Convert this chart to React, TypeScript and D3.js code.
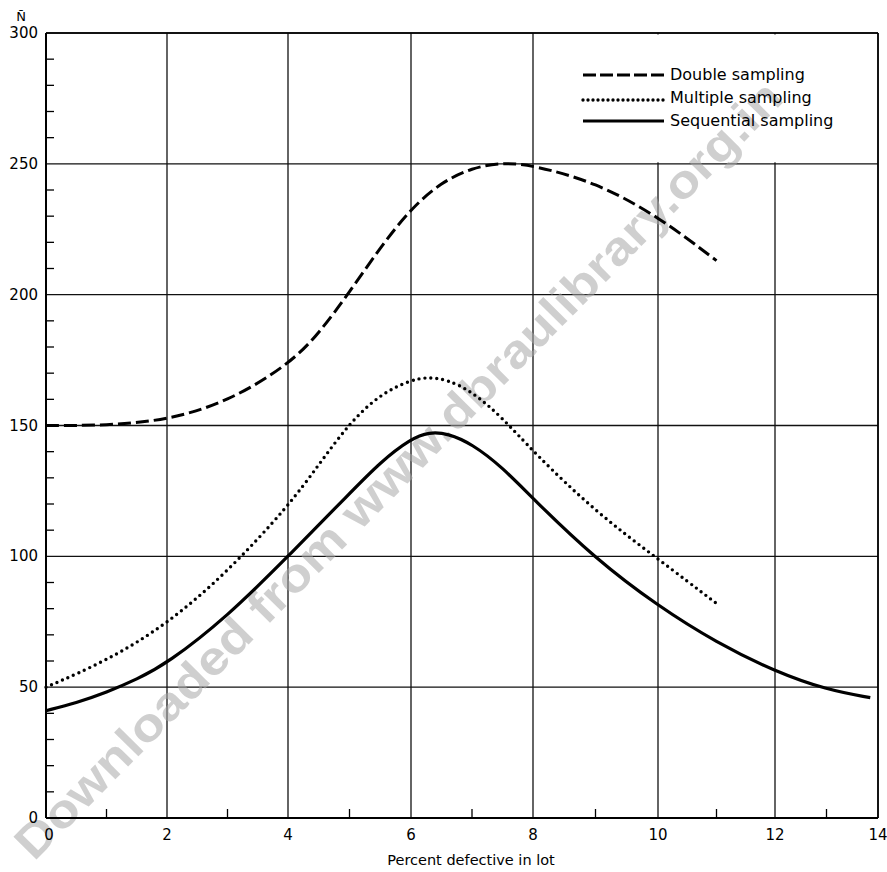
import React from "react";
import * as d3 from "d3";

// ---- data ----
const xTickValues = [0, 2, 4, 6, 8, 10, 12, 14];
const yTickValues = [0, 50, 100, 150, 200, 250, 300];
const xMinorTicks = [1, 3, 5, 7, 9, 11, 13];
const yMinorTicks = d3.range(10, 300, 10).filter((v) => v % 50 !== 0);

const doubleX = [0, 1, 2, 3, 4, 4.5, 5, 5.5, 6, 6.5, 7, 7.5, 8, 9, 10, 11];
const doubleY = [150, 150, 152, 159, 173, 185, 201, 218, 233, 243, 248.5, 250.5, 249.5, 243, 230, 213];

const multipleX = [0, 1, 2, 3, 4, 4.5, 5, 5.5, 6, 6.3, 6.6, 7, 7.5, 8, 9, 10, 11];
const multipleY = [50, 60, 74, 94, 119, 135, 151, 162, 167.5, 168.5, 167.5, 163, 153, 140, 117, 99, 82];

const sequentialX = [0, 0.5, 1, 1.5, 2, 3, 4, 5, 5.5, 6, 6.3, 6.6, 7, 7.5, 8, 9, 10, 11, 12, 13, 13.85];
const sequentialY = [41, 44, 48, 53, 59, 77, 100, 124, 136, 145, 147.5, 147, 143, 134, 122, 99, 81, 67, 56, 49, 46];

const legendLabels = ["Double sampling", "Multiple sampling", "Sequential sampling"];

const FONT = "'DejaVu Sans', sans-serif";

export default function App() {
  const W = 887;
  const H = 872;
  // scanned axis is slightly non-uniform: polylinear scale through the grid positions
  const x = d3
    .scaleLinear()
    .domain(xTickValues)
    .range([46, 167, 288, 411, 533, 658, 775, 878]);
  const y = d3.scaleLinear().domain([0, 300]).range([818, 33]);

  const line = (xs: number[], ys: number[]) =>
    d3
      .line<number>()
      .x((_, i) => x(xs[i]))
      .y((d) => y(d))
      .curve(d3.curveBasis)(ys) as string;

  const x0 = x(0);
  const x1 = x(14);
  const y0 = y(0);
  const y1 = y(300);

  const series = [
    { xs: doubleX, ys: doubleY, dash: "13 5", cap: "butt", w: 3 },
    { xs: multipleX, ys: multipleY, dash: "0 6", cap: "round", w: 3.4 },
    { xs: sequentialX, ys: sequentialY, dash: "none", cap: "butt", w: 3.2 },
  ];

  const legendBase = [80, 103, 126];
  const legendLineY = [75, 100, 121];

  // watermark geometry
  const wmStart = [34, 862];
  const wmAngle = -45.4;

  return (
    <svg
      width={W}
      height={H}
      style={{ position: "absolute", left: 0, top: 0, background: "#fff" }}
    >
      <rect x={0} y={0} width={W} height={H} fill="#fff" />

      {/* horizontal grid */}
      {yTickValues
        .filter((v) => v > 0)
        .map((v) => (
          <line key={"h" + v} x1={x0} x2={x1} y1={y(v)} y2={y(v)} stroke="#111" strokeWidth={1.3} />
        ))}
      {/* vertical grid */}
      {xTickValues
        .filter((v) => v > 0)
        .map((v) => (
          <line key={"v" + v} x1={x(v)} x2={x(v)} y1={y0} y2={y1} stroke="#111" strokeWidth={1.3} />
        ))}

      {/* legend box (hides grid in the upper right cell) */}
      <rect
        x={x(9.45)}
        y={y(300) + 1.5}
        width={x(14) - x(9.45) - 2}
        height={y(250) - y(300) - 3}
        fill="#fff"
      />

      {/* watermark of the scanned source */}
      <text
        transform={`translate(${wmStart[0]},${wmStart[1]}) rotate(${wmAngle})`}
        fontFamily="'Liberation Sans', Arial, sans-serif"
        fontWeight="bold"
        fontSize={47}
        textLength={1070}
        lengthAdjust="spacingAndGlyphs"
        fill="#a8a8a8"
        fillOpacity={0.55}
      >
        Downloaded from www.dbraulibrary.org.in
      </text>

      {/* axes */}
      <line x1={x0} x2={x0} y1={y0} y2={y1} stroke="#000" strokeWidth={2} />
      <line x1={x0} x2={x1} y1={y0} y2={y0} stroke="#000" strokeWidth={2} />
      <line x1={x0} x2={x1} y1={y1} y2={y1} stroke="#000" strokeWidth={1.6} />
      <line x1={x1} x2={x1} y1={y0} y2={y1} stroke="#000" strokeWidth={1.6} />

      {/* minor ticks */}
      {yMinorTicks.map((v) => (
        <line key={"ym" + v} x1={x0} x2={x0 + 8} y1={y(v)} y2={y(v)} stroke="#000" strokeWidth={1.3} />
      ))}
      {xMinorTicks.map((v) => (
        <line key={"xm" + v} x1={x(v)} x2={x(v)} y1={y0} y2={y0 - 9} stroke="#000" strokeWidth={1.3} />
      ))}

      {/* tick labels */}
      {yTickValues.map((v) => (
        <text
          key={"yl" + v}
          x={38}
          y={y(v) + 5}
          textAnchor="end"
          fontFamily={FONT}
          fontSize={15}
          fill="#000"
        >
          {v}
        </text>
      ))}
      {xTickValues.map((v) => (
        <text
          key={"xl" + v}
          x={v === 0 ? x(v) + 3 : x(v)}
          y={840}
          textAnchor="middle"
          fontFamily={FONT}
          fontSize={15}
          fill="#000"
        >
          {v}
        </text>
      ))}

      <text x={21} y={21} textAnchor="middle" fontFamily={FONT} fontSize={13} fill="#000">
        {"N\u0304"}
      </text>
      <text x={471} y={865} textAnchor="middle" fontFamily={FONT} fontSize={14.5} fill="#000">
        Percent defective in lot
      </text>

      {/* curves */}
      {series.map((s, i) => (
        <path
          key={"s" + i}
          d={line(s.xs, s.ys)}
          fill="none"
          stroke="#000"
          strokeWidth={s.w}
          strokeDasharray={s.dash}
          strokeLinecap={s.cap as any}
        />
      ))}

      {/* legend */}
      {legendLabels.map((lab, i) => (
        <g key={"lg" + i}>
          <line
            x1={583}
            x2={664}
            y1={legendLineY[i]}
            y2={legendLineY[i]}
            stroke="#000"
            strokeWidth={series[i].w}
            strokeDasharray={i === 0 ? "13 4" : i === 1 ? "0 5" : "none"}
            strokeLinecap={series[i].cap as any}
          />
          <text x={670} y={legendBase[i]} fontFamily={FONT} fontSize={16} fill="#000">
            {lab}
          </text>
        </g>
      ))}
    </svg>
  );
}
